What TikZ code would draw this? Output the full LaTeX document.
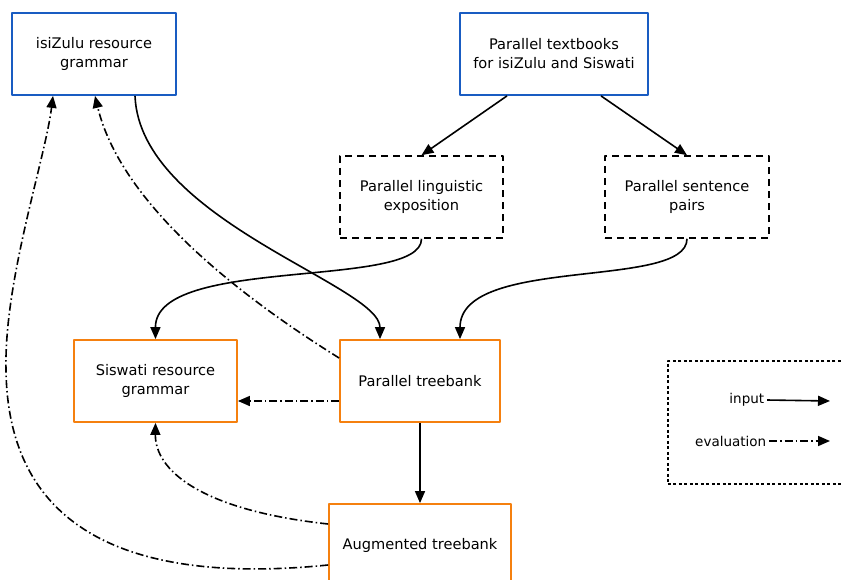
\documentclass[tikz,border=0pt]{standalone}
\usepackage{fontspec}
\setmainfont{DejaVu Sans}
\usetikzlibrary{arrows.meta}
\definecolor{qqwwcc}{rgb}{0.10,0.36,0.76}
\definecolor{ffvvqq}{rgb}{0.96,0.50,0.06}
\tikzset{
	box/.style={draw,line width=1.8pt,minimum height=82pt,align=center,font=\fontsize{14.6}{19}\selectfont},
	source/.style={box,color=qqwwcc,text=black},
	grammar/.style={box,color=ffvvqq,text=black},
	derived/.style={box,line width=1.6pt,dash pattern=on 7pt off 5pt},
	evaluation/.style={dash pattern=on 8pt off 3pt on 1.5pt off 3pt},
}
\begin{document}
\begin{tikzpicture}[line join=round,>={Triangle[length=12pt,width=10pt]},x=1pt,y=-1pt,line width=1.6pt]
	\useasboundingbox (0,0) rectangle (842,580);
	\node[source,minimum width=164pt] (zulu) at (94,54) {isiZulu resource\\grammar};
	\node[source,minimum width=188pt] (books) at (554,54) {Parallel textbooks\\for isiZulu and Siswati};
	\node[derived,minimum width=163pt] (expo) at (421.5,197) {Parallel linguistic\\exposition};
	\node[derived,minimum width=164pt] (pairs) at (687,197) {Parallel sentence\\pairs};
	\node[grammar,minimum width=163pt] (swati) at (155.5,381) {Siswati resource\\grammar};
	\node[grammar,minimum width=160pt] (tbank) at (420,381) {Parallel treebank};
	\node[grammar,minimum width=182pt] (aug) at (420,545) {Augmented treebank};
	% inputs
	\draw [->] (books.south) ++(-47,0) coordinate (b1) -- (expo.north);
	\draw [->] (books.south) ++(47,0) coordinate (b2) -- (pairs.north);
	\draw [->] (expo.south) .. controls (422,290) and (155,255) .. (swati.north);
	\draw [->] (pairs.south) .. controls (687,290) and (460,255) .. (tbank.north -| 460,0);
	\draw [->] (zulu.south -| 135,0) .. controls (140,220) and (380,285) .. (tbank.north -| 380,0);
	\draw [->] (tbank) -- (aug);
	% evaluation
	\draw [->,evaluation] (tbank.west |- 0,358) .. controls (230,290) and (120,200) .. (zulu.south -| 95,0);
	\draw [->,evaluation] (tbank.west |- 0,401) -- (swati.east |- 0,401);
	\draw [->,evaluation] (aug.west |- 0,524) .. controls (200,510) and (155,470) .. (swati.south);
	\draw [->,evaluation] (aug.west |- 0,565) .. controls (130,585) and (8,530) .. (6,370) .. controls (4,280) and (45,160) .. (zulu.south -| 53,0);
	% legend
	\node[draw,line width=1.5pt,dash pattern=on 3pt off 2.5pt,minimum width=190pt,minimum height=123pt,anchor=north west] (legend) at (667,360) {};
	\node[anchor=east,font=\fontsize{13.5}{16}\selectfont,inner sep=2pt] (lin) at (767,400) {input};
	\node[anchor=east,font=\fontsize{13.5}{16}\selectfont,inner sep=2pt] (lev) at (769,441) {evaluation};
	\coordinate (ein) at (830,401);
	\coordinate (eev) at (830,441);
	\draw [->] (lin.east) -- (ein);
	\draw [->,evaluation] (lev.east) -- (eev);
\end{tikzpicture}
\end{document}
